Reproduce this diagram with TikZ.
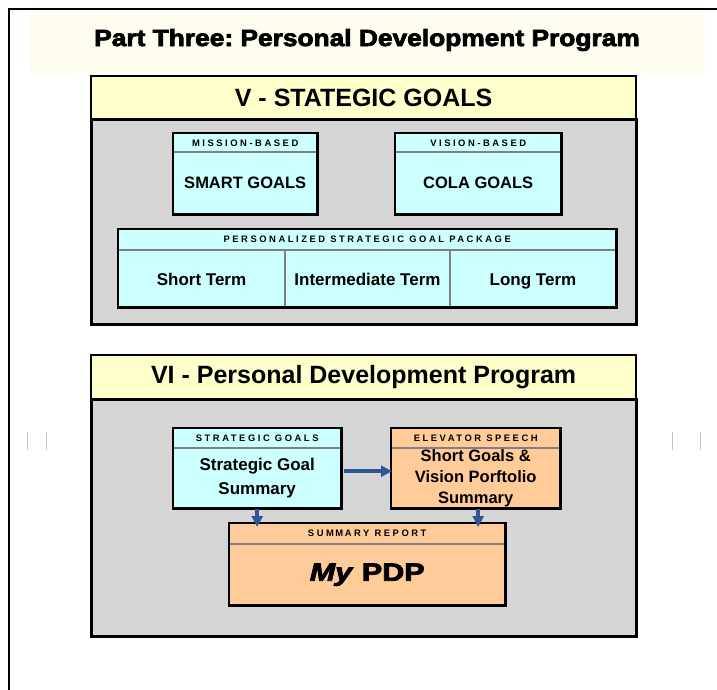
\documentclass[tikz,border=0pt]{standalone}
\usepackage{fontspec}
\setmainfont{Liberation Sans}
\newfontfamily\hdrfont[LetterSpace=27]{Liberation Sans}
\newfontfamily\heavyfont{Liberation Sans Bold}[FakeBold=3, ItalicFont={Liberation Sans Bold Italic}, ItalicFeatures={FakeBold=3}]
\usetikzlibrary{calc,arrows.meta}
\definecolor{cyanbox}{HTML}{CCFFFF}
\definecolor{orangebox}{HTML}{FFCC99}
\definecolor{yellowhead}{HTML}{FFFFCC}
\definecolor{graybody}{HTML}{D6D6D6}
\definecolor{arrowblue}{HTML}{2F5597}
\definecolor{titleglow}{HTML}{FFFEEE}
\definecolor{sepgray}{HTML}{808080}
\tikzset{
  secthead/.style={fill=yellowhead, draw=black, line width=2.2pt, anchor=north west, inner sep=0pt,
    font=\bfseries\fontsize{25}{29}\selectfont},
  sectbody/.style={fill=graybody, draw=black, line width=2.5pt, anchor=north west, inner sep=0pt},
  boxfill/.style={anchor=north west, inner sep=0pt},
  hdr/.style={font=\hdrfont\bfseries\fontsize{9.4}{11}\selectfont, inner sep=0pt},
  bodytext/.style={font=\bfseries\fontsize{17}{24}\selectfont, align=center, inner sep=0pt},
  sepline/.style={draw=sepgray, line width=2.5pt},
  boxline/.style={draw=black, line width=2.8pt},
  flow/.style={draw=arrowblue, line width=4.5pt, -{Triangle[length=11pt,width=11pt]}},
  tick/.style={draw=gray!45, line width=0.8pt}
}
\begin{document}
\frenchspacing
\begin{tikzpicture}[x=1pt,y=-1pt]
\useasboundingbox (0,0) rectangle (717,689);
\fill[white] (0,0) rectangle (717,689);
% outer frame
\draw[line width=2pt] (9,695) -- (9,9) -- (725,9);
% title band
\fill[titleglow] (30,14) rectangle (705,72);
\node[font=\heavyfont\fontsize{23.5}{28}\selectfont, inner sep=0pt] (title) at (367,40) {\scalebox{1.12}[1]{Part Three: Personal Development Program}};

% ---------- Section V ----------
\node[sectbody, minimum width=545pt, minimum height=205pt] (vbody) at (90,118) {};
\node[secthead, minimum width=545pt, minimum height=43pt] (vhead) at (90,75) {V - STATEGIC GOALS};

% mission-based
\node[boxfill, fill=cyanbox, minimum width=144pt, minimum height=81pt] (mb) at (173,133) {};
\draw[sepline] ([yshift=-19pt]mb.north west) -- ([yshift=-19pt]mb.north east);
\node[hdr] (mbh) at ([yshift=-10pt]mb.north) {MISSION-BASED};
\node[bodytext, font=\bfseries\fontsize{16.5}{20}\selectfont] (mbt) at ($(mb.south)!0.5!([yshift=-19pt]mb.north)$) {SMART GOALS};
\draw[boxline] (mb.north west) rectangle (mb.south east);

% vision-based
\node[boxfill, fill=cyanbox, minimum width=166pt, minimum height=81pt] (vb) at (395,133) {};
\draw[sepline] ([yshift=-19pt]vb.north west) -- ([yshift=-19pt]vb.north east);
\node[hdr] (vbh) at ([yshift=-10pt]vb.north) {VISION-BASED};
\node[bodytext, font=\bfseries\fontsize{16.5}{20}\selectfont] (vbt) at ($(vb.south)!0.5!([yshift=-19pt]vb.north)$) {COLA GOALS};
\draw[boxline] (vb.north west) rectangle (vb.south east);

% package
\node[boxfill, fill=cyanbox, minimum width=498pt, minimum height=78pt] (pk) at (118,229) {};
\draw[sepline] ([yshift=-21pt]pk.north west) -- ([yshift=-21pt]pk.north east);
\coordinate (d1) at (285,250);
\coordinate (d2) at (450,250);
\draw[sepline] (d1) -- (d1 |- pk.south);
\draw[sepline] (d2) -- (d2 |- pk.south);
\node[hdr] (pkh) at ([yshift=-10.5pt]pk.north) {PERSONALIZED STRATEGIC GOAL PACKAGE};
\node[bodytext, anchor=base] (st) at (201.5,285) {Short Term};
\node[bodytext, anchor=base] (it) at (367.5,285) {Intermediate Term};
\node[bodytext, anchor=base] (lt) at (533,285) {Long Term};
\draw[boxline] (pk.north west) rectangle (pk.south east);

% ---------- Section VI ----------
\node[sectbody, minimum width=545pt, minimum height=237pt] (vibody) at (90,398) {};
\node[secthead, minimum width=545pt, minimum height=44pt] (vihead) at (90,354) {VI - Personal Development Program};

% strategic goals
\node[boxfill, fill=cyanbox, minimum width=168pt, minimum height=80pt] (sg) at (173,428) {};
\draw[sepline] ([yshift=-20pt]sg.north west) -- ([yshift=-20pt]sg.north east);
\node[hdr] (sgh) at ([yshift=-10pt]sg.north) {STRATEGIC GOALS};
\node[bodytext] (sgt) at ($(sg.south)!0.5!([yshift=-20pt]sg.north)$) {Strategic Goal\\Summary};
\draw[boxline] (sg.north west) rectangle (sg.south east);

% elevator speech
\node[boxfill, fill=orangebox, minimum width=169pt, minimum height=80pt] (es) at (391,428) {};
\node[bodytext, font=\bfseries\fontsize{16.5}{21}\selectfont] (est) at ($(es.south)!0.5!([yshift=-20pt]es.north)$) {Short Goals \&\\Vision Porftolio\\Summary};
\fill[orangebox] (es.north west) rectangle ([yshift=-19pt]es.north east);
\draw[sepline] ([yshift=-20pt]es.north west) -- ([yshift=-20pt]es.north east);
\node[hdr] (esh) at ([yshift=-10pt]es.north) {ELEVATOR SPEECH};
\draw[boxline] (es.north west) rectangle (es.south east);

% summary report
\node[boxfill, fill=orangebox, minimum width=276pt, minimum height=82pt] (sr) at (229,523) {};
\draw[sepline] ([yshift=-21pt]sr.north west) -- ([yshift=-21pt]sr.north east);
\node[hdr] (srh) at ([yshift=-10.5pt]sr.north) {SUM\,M\,ARY REPORT};
\node[inner sep=0pt, font=\heavyfont\fontsize{25}{28}\selectfont] (srt) at ($(sr.south)!0.5!([yshift=-21pt]sr.north)$) {\scalebox{1.22}[1]{\textit{My} PDP}};
\draw[boxline] (sr.north west) rectangle (sr.south east);

% arrows
\draw[flow] ($(sg.east)+(3,3)$) -- ($(es.west)+(1,3)$);
\draw[flow] ([yshift=-1pt]sg.south) -- ([yshift=-4pt]sg.south |- sr.north);
\draw[flow] ([yshift=-1pt,xshift=2.5pt]es.south) -- ([yshift=-4pt,xshift=2.5pt]es.south |- sr.north);

% side ticks
\draw[tick] (27,432) -- (27,450);
\draw[tick] (46,432) -- (46,450);
\draw[tick] (672,432) -- (672,450);
\draw[tick] (700,432) -- (700,450);
\end{tikzpicture}
\end{document}
